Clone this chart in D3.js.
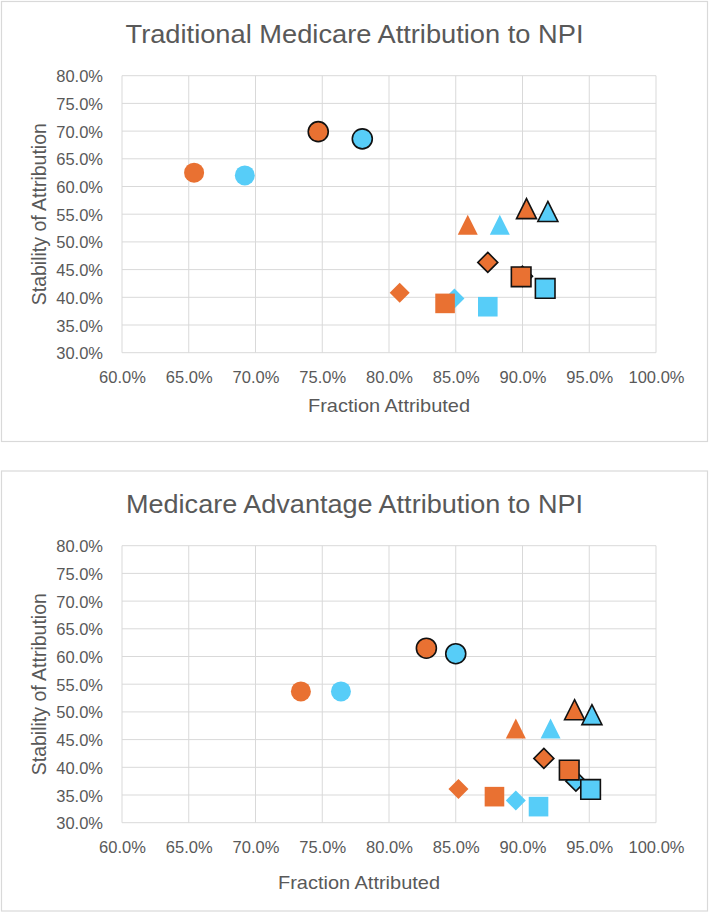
<!DOCTYPE html>
<html>
<head>
<meta charset="utf-8">
<script src="https://cdn.jsdelivr.net/npm/d3@7"></script>
<style>
  html, body { margin: 0; padding: 0; background: #ffffff; }
  svg { display: block; }
  text { font-family: "Liberation Sans", Arial, sans-serif; fill: #595959; }
</style>
</head>
<body>
<svg id="chart" width="709" height="913"></svg>
<script>
// ---------------- DATA ----------------
const chartTitles = ["Traditional Medicare Attribution to NPI", "Medicare Advantage Attribution to NPI"];
const xAxisTitle = "Fraction Attributed";
const yAxisTitle = "Stability of Attribution";

const xTickValues = [0.60, 0.65, 0.70, 0.75, 0.80, 0.85, 0.90, 0.95, 1.00];
const yTickValues = [0.30, 0.35, 0.40, 0.45, 0.50, 0.55, 0.60, 0.65, 0.70, 0.75, 0.80];

// series (in drawing order)
const seriesColor   = ["orange","blue","orange","blue","orange","blue","orange","blue","orange","blue","orange","blue","orange","blue","orange","blue"];
const seriesShape   = ["circle","circle","circle","circle","triangle","triangle","triangle","triangle","diamond","diamond","diamond","diamond","square","square","square","square"];
const seriesOutline = [false,false,true,true,false,false,true,true,false,false,true,true,false,false,true,true];

// Traditional Medicare (percent)
const tmFraction  = [65.4, 69.2, 74.7, 78.0, 85.9, 88.3, 90.3, 91.9, 80.8, 84.9, 87.4, 90.0, 84.2, 87.4, 89.9, 91.7];
const tmStability = [62.5, 62.0, 69.9, 68.6, 53.1, 53.1, 56.0, 55.5, 40.8, 39.8, 46.3, 43.8, 38.9, 38.3, 43.7, 41.6];

// Medicare Advantage (percent)
const maFraction  = [73.4, 76.4, 82.8, 85.0, 89.5, 92.1, 93.9, 95.2, 85.2, 89.5, 91.6, 94.0, 87.9, 91.2, 93.5, 95.1];
const maStability = [53.7, 53.7, 61.5, 60.5, 47.0, 47.0, 50.4, 49.5, 36.1, 34.0, 41.6, 37.5, 34.7, 32.9, 39.5, 36.0];

// ---------------- STYLE ----------------
const colorMap = { orange: "#E97132", blue: "#57CDF8" };
const gridColor = "#D9D9D9";

const svg = d3.select("#chart");

const panels = [
  { title: chartTitles[0], xs: tmFraction, ys: tmStability,
    frame: { x: 1.5, y: 1.5, w: 706, h: 440 },
    plotTop: 75.7, titleY: 34, xTitleY: 405, xTitleX: 389 },
  { title: chartTitles[1], xs: maFraction, ys: maStability,
    frame: { x: 1.5, y: 471, w: 706, h: 440 },
    plotTop: 545.7, titleY: 504, xTitleY: 882, xTitleX: 359 }
];

const plotLeft = 122, plotRight = 656, plotHeight = 277;

function markerPath(shape) {
  const h = 10;
  if (shape === "circle") return d3.symbol().type(d3.symbolCircle).size(Math.PI * 10 * 10)();
  if (shape === "square") { const s = 9.8; return `M${-s},${-s}H${s}V${s}H${-s}Z`; }
  if (shape === "triangle") return `M0,${-h}L${h},${h}L${-h},${h}Z`;
  if (shape === "diamond") return `M0,${-h}L${h},0L0,${h}L${-h},0Z`;
}

panels.forEach(p => {
  const g = svg.append("g");

  g.append("rect")
    .attr("x", p.frame.x).attr("y", p.frame.y)
    .attr("width", p.frame.w).attr("height", p.frame.h)
    .attr("fill", "#fff").attr("stroke", gridColor).attr("stroke-width", 1.2);

  const x = d3.scaleLinear().domain([0.60, 1.00]).range([plotLeft, plotRight]);
  const y = d3.scaleLinear().domain([0.30, 0.80]).range([p.plotTop + plotHeight, p.plotTop]);

  // gridlines
  g.append("g").selectAll("line").data(xTickValues).join("line")
    .attr("x1", d => x(d)).attr("x2", d => x(d))
    .attr("y1", y(0.80)).attr("y2", y(0.30))
    .attr("stroke", gridColor).attr("stroke-width", 1);
  g.append("g").selectAll("line").data(yTickValues).join("line")
    .attr("x1", x(0.60)).attr("x2", x(1.00))
    .attr("y1", d => y(d)).attr("y2", d => y(d))
    .attr("stroke", gridColor).attr("stroke-width", 1);

  // axes (labels only)
  const fmt = d3.format(".1%");
  const xAxis = d3.axisBottom(x).tickValues(xTickValues).tickFormat(fmt).tickSize(0).tickPadding(16);
  const yAxis = d3.axisLeft(y).tickValues(yTickValues).tickFormat(fmt).tickSize(0).tickPadding(18);

  const gx = g.append("g").attr("transform", `translate(0,${y(0.30)})`).call(xAxis);
  const gy = g.append("g").attr("transform", `translate(${x(0.60)},0)`).call(yAxis);
  [gx, gy].forEach(a => {
    a.select(".domain").remove();
    a.selectAll("text").attr("font-size", 16.5).attr("fill", "#595959")
      .attr("font-family", '"Liberation Sans", Arial, sans-serif');
  });
  gx.selectAll("text").attr("dy", null).attr("dominant-baseline", "central").attr("y", 24);
  gy.selectAll("text").attr("dy", null).attr("dominant-baseline", "central").attr("x", -19);

  // titles
  g.append("text").text(p.title)
    .attr("x", 354.5).attr("y", p.titleY)
    .attr("text-anchor", "middle").attr("dominant-baseline", "central")
    .attr("font-size", 25)
    .attr("textLength", p.title.length > 38 ? 458 : 457)
    .attr("lengthAdjust", "spacingAndGlyphs");

  g.append("text").text(xAxisTitle)
    .attr("x", p.xTitleX).attr("y", p.xTitleY)
    .attr("text-anchor", "middle").attr("dominant-baseline", "central")
    .attr("font-size", 19).attr("textLength", 162).attr("lengthAdjust", "spacingAndGlyphs");

  const yMid = (y(0.80) + y(0.30)) / 2;
  g.append("text").text(yAxisTitle)
    .attr("transform", `translate(38.5,${yMid}) rotate(-90)`)
    .attr("text-anchor", "middle").attr("dominant-baseline", "central")
    .attr("font-size", 19.5);

  // markers
  const pts = p.xs.map((v, i) => ({ fx: v / 100, sy: p.ys[i], i }));
  g.append("g").selectAll("path").data(pts).join("path")
    .attr("d", d => markerPath(seriesShape[d.i]))
    .attr("transform", d => `translate(${x(d.fx)},${y(d.sy / 100)})`)
    .attr("fill", d => colorMap[seriesColor[d.i]])
    .attr("stroke", d => seriesOutline[d.i] ? "#111" : "none")
    .attr("stroke-width", 1.6)
    .attr("stroke-linejoin", "miter");
});
</script>
</body>
</html>
